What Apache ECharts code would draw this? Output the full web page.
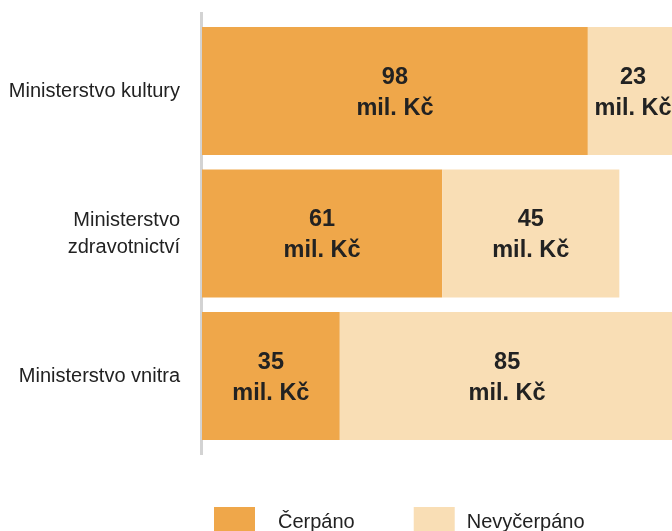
<!DOCTYPE html>
<html>
<head>
<meta charset="utf-8">
<script src="https://cdn.jsdelivr.net/npm/echarts@6/dist/echarts.min.js"></script>
<style>html,body{margin:0;padding:0;background:#fff}#c{width:672px;height:531px}</style>
</head>
<body>
<div id="c"></div>
<script>
var categories = ['Ministerstvo kultury', 'Ministerstvo\nzdravotnictví', 'Ministerstvo vnitra'];
var cerpano = [98, 61, 35];
var nevycerpano = [23, 45, 85];
var seriesNames = ['Čerpáno', 'Nevyčerpáno'];

var FONT = 'Liberation Sans';
var chart = echarts.init(document.getElementById('c'));
var labelCfg = {
  show: true,
  position: 'inside',
  offset: [0, 2],
  formatter: '{a|{c}}\n{a|mil. Kč}',
  rich: { a: { fontSize: 23.5, fontWeight: 'bold', color: '#222', lineHeight: 31, fontFamily: FONT } }
};
chart.setOption({
  animation: false,
  grid: { left: 202, top: 19.75, height: 427.5, width: 476.4, outerBoundsMode: 'none', containLabel: false },
  xAxis: { type: 'value', min: 0, max: 121, show: false },
  yAxis: {
    type: 'category', data: categories, inverse: true,
    axisLine: { show: false }, axisTick: { show: false },
    axisLabel: { margin: 22, fontSize: 20, color: '#222', fontFamily: FONT, lineHeight: 27, align: 'right' }
  },
  legend: {
    left: 214, top: 507, padding: 0, itemWidth: 41, itemHeight: 30, itemGap: 59, icon: 'rect',
    formatter: function (name) { return name === seriesNames[0] ? '{a|' + name + '}' : '{b|' + name + '}'; },
    textStyle: {
      fontSize: 20, color: '#222', fontFamily: FONT,
      rich: {
        a: { fontSize: 20, color: '#222', fontFamily: FONT, padding: [0, 0, 0, 18] },
        b: { fontSize: 20, color: '#222', fontFamily: FONT, padding: [0, 0, 0, 7] }
      }
    },
    data: seriesNames
  },
  graphic: [{ type: 'rect', z: 0, shape: { x: 200, y: 12, width: 3, height: 443 }, style: { fill: '#d3d3d3' } }],
  series: [
    { name: seriesNames[0], type: 'bar', stack: 's', data: cerpano, barWidth: 128, clip: false, itemStyle: { color: '#EFA74A' }, label: labelCfg, z: 3 },
    { name: seriesNames[1], type: 'bar', stack: 's', data: nevycerpano, barWidth: 128, clip: false, itemStyle: { color: '#F9DEB5' }, label: labelCfg, z: 3 }
  ]
});
</script>
</body>
</html>
